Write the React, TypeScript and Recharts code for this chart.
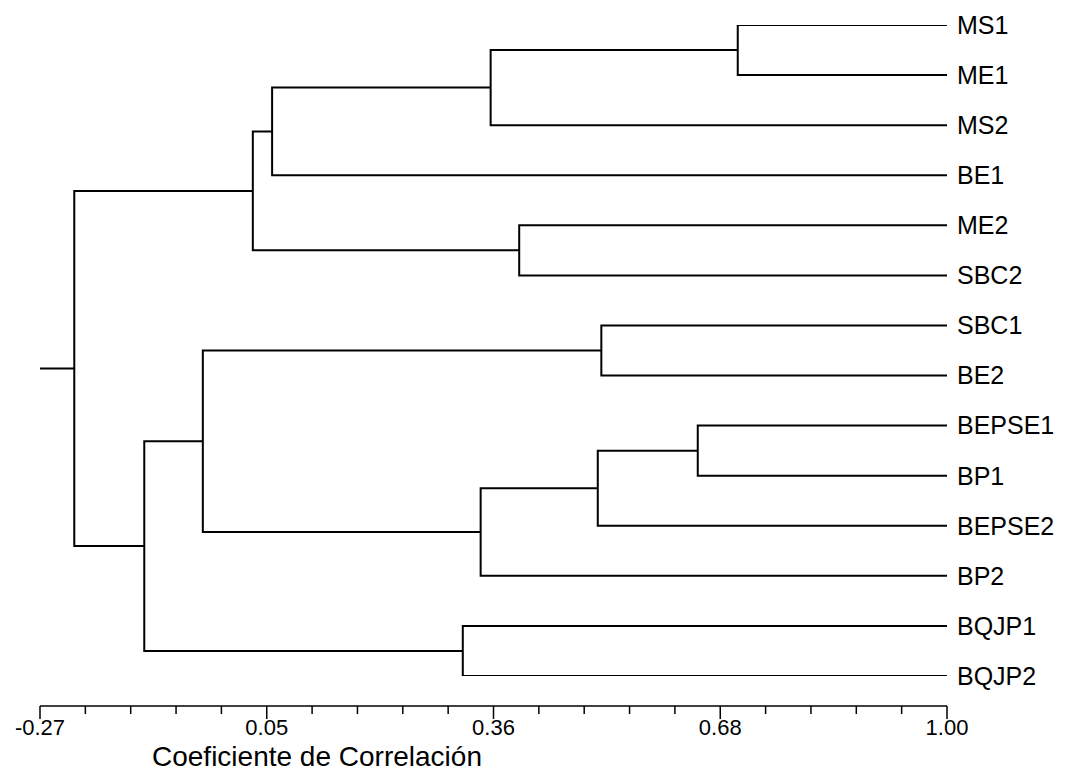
import React from "react"
import { Label, Line, LineChart, XAxis, YAxis } from "recharts"

const leafNames = [
  "MS1", "ME1", "MS2", "BE1", "ME2", "SBC2", "SBC1",
  "BE2", "BEPSE1", "BP1", "BEPSE2", "BP2", "BQJP1", "BQJP2",
]

// merge steps: node ids < 14 are leaves, 14+ are previous merges
const mergeLeft = [0, 14, 15, 4, 16, 6, 8, 20, 21, 19, 12, 23, 18]
const mergeRight = [1, 2, 3, 5, 17, 7, 9, 10, 11, 22, 13, 24, 25]
const mergeHeight = [0.707, 0.361, 0.055, 0.401, 0.028, 0.516, 0.651, 0.511, 0.347, -0.042, 0.322, -0.124, -0.222]

const rootStart = -0.27
const majorTicks = [-0.27, 0.0475, 0.365, 0.6825, 1.0]
const majorLabels = ["-0.27", "0.05", "0.36", "0.68", "1.00"]

const font = "'Liberation Sans', Arial, sans-serif"

const nodeX: number[] = leafNames.map(() => 1.0)
const nodeY: number[] = leafNames.map((_, i) => leafNames.length - 1 - i)
const segments = mergeHeight.map((h, k) => {
  const a = mergeLeft[k]
  const b = mergeRight[k]
  const seg = [
    { x: nodeX[a], y: nodeY[a] },
    { x: h, y: nodeY[a] },
    { x: h, y: nodeY[b] },
    { x: nodeX[b], y: nodeY[b] },
  ]
  nodeX.push(h)
  nodeY.push((nodeY[a] + nodeY[b]) / 2)
  return seg
})
const rootId = nodeX.length - 1
const rootStub = [
  { x: rootStart, y: nodeY[rootId] },
  { x: nodeX[rootId], y: nodeY[rootId] },
]

const allTicks: number[] = []
majorTicks.forEach((t, i) => {
  allTicks.push(t)
  if (i < majorTicks.length - 1) {
    const step = (majorTicks[i + 1] - t) / 5
    for (let j = 1; j < 5; j++) allTicks.push(t + step * j)
  }
})

const XTick = (props: any) => {
  const { x, y, payload } = props
  const i = majorTicks.findIndex((t) => Math.abs(t - payload.value) < 1e-6)
  const major = i >= 0
  return (
    <g>
      <line x1={x} x2={x} y1={y} y2={y + (major ? 13 : 8)} stroke="#000" strokeWidth={1.5} />
      {major && (
        <text x={x} y={y + 29} textAnchor="middle" fontSize={22} fontFamily={font} fill="#000">
          {majorLabels[i]}
        </text>
      )}
    </g>
  )
}

export default function App() {
  return (
    <div style={{ position: "absolute", left: 0, top: 0, width: 1080, height: 773, background: "#fff" }}>
      <LineChart width={1080} height={773} margin={{ top: 25, right: 0, bottom: 0, left: 40 }}>
        <XAxis
          type="number"
          dataKey="x"
          domain={[-0.27, 1.0]}
          ticks={allTicks}
          interval={0}
          tick={<XTick />}
          tickSize={0}
          tickMargin={0}
          tickLine={false}
          height={67}
          axisLine={{ stroke: "#000", strokeWidth: 1.5 }}
          allowDataOverflow
        >
          <Label
            content={(props: any) => {
              const vb = props.viewBox || { x: 40, y: 706 }
              return (
                <text x={vb.x + 112} y={vb.y + 60} fontSize={28} fontFamily={font} fill="#000">
                  Coeficiente de Correlación
                </text>
              )
            }}
          />
        </XAxis>
        <YAxis
          type="number"
          yAxisId={0}
          orientation="right"
          domain={[0, leafNames.length - 1]}
          ticks={leafNames.map((_, i) => i)}
          interval={0}
          tickFormatter={(v: number) => leafNames[leafNames.length - 1 - v]}
          tick={{ fill: "#000", fontSize: 25, fontFamily: font }}
          tickSize={0}
          tickMargin={10}
          tickLine={false}
          axisLine={false}
          width={133}
          padding={{ top: 0, bottom: 30 }}
          allowDataOverflow
        />
        {segments.map((seg, k) => (
          <Line
            key={k}
            data={seg}
            dataKey="y"
            type="linear"
            stroke="#000"
            strokeWidth={2}
            dot={false}
            activeDot={false}
            isAnimationActive={false}
          />
        ))}
        <Line
          data={rootStub}
          dataKey="y"
          type="linear"
          stroke="#000"
          strokeWidth={2}
          dot={false}
          activeDot={false}
          isAnimationActive={false}
        />
      </LineChart>
    </div>
  )
}
